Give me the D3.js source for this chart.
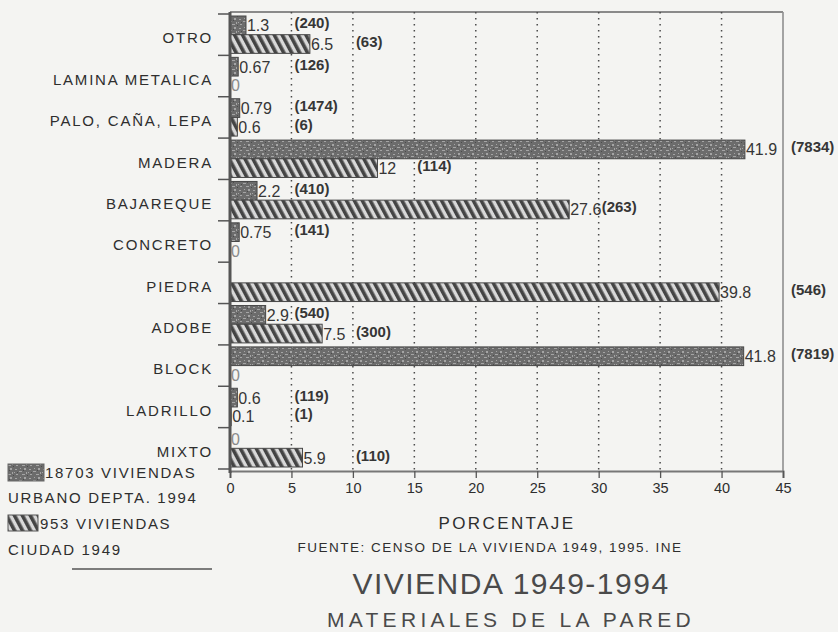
<!DOCTYPE html>
<html>
<head>
<meta charset="utf-8">
<script src="https://cdn.jsdelivr.net/npm/d3@7/dist/d3.min.js"></script>
<style>
  html, body { margin: 0; padding: 0; background: #f4f4f2; }
  svg { display: block; font-family: "Liberation Sans", Arial, Helvetica, sans-serif; }
</style>
</head>
<body>
<svg id="chart" width="838" height="632"></svg>
<script>
// Wall materials of dwellings, 1994 urban department vs. 1949 city
const categories = ["OTRO", "LAMINA METALICA", "PALO, CAÑA, LEPA", "MADERA", "BAJAREQUE",
  "CONCRETO", "PIEDRA", "ADOBE", "BLOCK", "LADRILLO", "MIXTO"];

// Percentages (null = not reported)
const values1994 = [1.3, 0.67, 0.79, 41.9, 2.2, 0.75, null, 2.9, 41.8, 0.6, 0];
const values1949 = [6.5, 0, 0.6, 12, 27.6, 0, 39.8, 7.5, 0, 0.1, 5.9];

// Number of dwellings behind each percentage
const counts1994 = [240, 126, 1474, 7834, 410, 141, null, 540, 7819, 119, null];
const counts1949 = [63, null, 6, 114, 263, null, 546, 300, null, 1, 110];

const xTicks = [0, 5, 10, 15, 20, 25, 30, 35, 40, 45];
const legendLines1994 = ["18703 VIVIENDAS", "URBANO DEPTA. 1994"];
const legendLines1949 = ["953 VIVIENDAS", "CIUDAD 1949"];

const series = [
  { key: "1994", values: values1994, counts: counts1994, fill: "url(#stipple)" },
  { key: "1949", values: values1949, counts: counts1949, fill: "url(#hatch)" }
];

const svg = d3.select("#chart");
const ink = "#2e2e2e";

// ---- fill patterns ----
const defs = svg.append("defs");
const stip = defs.append("pattern").attr("id", "stipple")
  .attr("patternUnits", "userSpaceOnUse").attr("width", 14).attr("height", 9);
stip.append("rect").attr("width", 14).attr("height", 9).attr("fill", "#6c6c6c");
[[1,1,2,1],[5,3,3,1],[10,0,2,2],[2,6,2,1],[8,6,3,1],[12,4,1,2],[6,0,1,1],[0,4,1,1]]
  .forEach(([a,b,w,h]) => stip.append("rect").attr("x", a).attr("y", b)
    .attr("width", w).attr("height", h).attr("fill", "#a5a5a5"));
[[3,4,1,1],[9,2,1,1],[13,7,1,1]]
  .forEach(([a,b,w,h]) => stip.append("rect").attr("x", a).attr("y", b)
    .attr("width", w).attr("height", h).attr("fill", "#4c4c4c"));

const hatch = defs.append("pattern").attr("id", "hatch")
  .attr("patternUnits", "userSpaceOnUse").attr("width", 7).attr("height", 20)
  .attr("patternTransform", "rotate(-28)");
hatch.append("rect").attr("width", 7).attr("height", 20).attr("fill", "#d8d8d8");
hatch.append("rect").attr("width", 3.6).attr("height", 20).attr("fill", "#444");

// ---- scales ----
const x = d3.scaleLinear().domain([0, 45]).range([230, 783]);
const y = d3.scaleBand().domain(categories).range([14, 469]);
const sub = d3.scaleBand().domain(series.map(s => s.key)).range([2, y.bandwidth() - 2]);
const plotTop = 12, plotBottom = 471;

// ---- frame & grid ----
svg.append("line").attr("x1", x(0)).attr("x2", x(45)).attr("y1", plotTop).attr("y2", plotTop)
  .attr("stroke", "#8a8a8a").attr("stroke-width", 2);
svg.append("line").attr("x1", x(45)).attr("x2", x(45)).attr("y1", plotTop).attr("y2", plotBottom)
  .attr("stroke", "#8f8f8f").attr("stroke-width", 1.6);
svg.append("g").selectAll("line").data(xTicks.filter(t => t > 0 && t < 45)).join("line")
  .attr("x1", d => x(d)).attr("x2", d => x(d))
  .attr("y1", plotTop).attr("y2", plotBottom)
  .attr("stroke", "#4a4a4a").attr("stroke-width", 1.5)
  .attr("stroke-dasharray", "1.5,4.5");

// ---- bars ----
const rows = [];
series.forEach(s => categories.forEach((c, i) => {
  if (s.values[i] !== null) rows.push({ cat: c, key: s.key, v: s.values[i], n: s.counts[i], fill: s.fill });
}));

svg.append("g").selectAll("rect").data(rows.filter(d => d.v > 0)).join("rect")
  .attr("x", x(0))
  .attr("y", d => y(d.cat) + sub(d.key))
  .attr("width", d => x(d.v) - x(0))
  .attr("height", sub.bandwidth())
  .attr("fill", d => d.fill)
  .attr("stroke", "#474747").attr("stroke-width", 1);

// ---- value and count labels ----
// counts sit just right of the first grid line clear of the value label
const labelG = svg.append("g");
rows.forEach(d => {
  const yc = y(d.cat) + sub(d.key) + sub.bandwidth() / 2;
  const vt = labelG.append("text")
    .attr("x", x(d.v) + 1).attr("y", yc + 6)
    .attr("font-size", 16).attr("fill", d.v === 0 ? "#8a8a8a" : "#363636")
    .text(String(d.v));
  if (d.n !== null) {
    const end = x(d.v) + 1 + vt.node().getComputedTextLength() - 4;
    const g = Math.ceil(x.invert(end) / 5) * 5;
    const cx = g >= 45 ? x(45) + 8 : x(g) + 3;
    labelG.append("text")
      .attr("x", cx).attr("y", yc + 3)
      .attr("font-size", 15).attr("font-weight", "bold").attr("fill", "#363636")
      .text(`(${d.n})`);
  }
});

// ---- axes ----
const yAxis = svg.append("g").attr("transform", `translate(${x(0)},0)`)
  .call(d3.axisLeft(y).tickSize(0).tickPadding(17));
yAxis.select(".domain").remove();
yAxis.selectAll("text").attr("dy", "0.32em").attr("transform", "translate(0,4)")
  .attr("font-size", 15).attr("letter-spacing", 1.8).attr("fill", ink)
  .attr("font-family", "'Liberation Sans', Arial, sans-serif");

svg.append("g").selectAll("line").data(categories.map(c => y(c)).concat([y.range()[1]])).join("line")
  .attr("x1", x(0) - 12).attr("x2", x(0)).attr("y1", d => d).attr("y2", d => d)
  .attr("stroke", "#555").attr("stroke-width", 1.5);

const xAxis = svg.append("g").attr("transform", `translate(0,${plotBottom})`)
  .call(d3.axisBottom(x).tickValues(xTicks).tickSize(7).tickPadding(5));
xAxis.select(".domain").attr("stroke", "#777").attr("stroke-width", 2);
xAxis.selectAll(".tick line").attr("stroke", "#555").attr("stroke-width", 1.3);
xAxis.selectAll("text").attr("font-size", 14.5).attr("fill", ink)
  .attr("font-family", "'Liberation Sans', Arial, sans-serif");

svg.append("line").attr("x1", x(0)).attr("x2", x(0)).attr("y1", plotTop).attr("y2", plotBottom + 2)
  .attr("stroke", "#555").attr("stroke-width", 3);

// ---- titles ----
svg.append("text").attr("x", 507).attr("y", 529).attr("text-anchor", "middle")
  .attr("font-size", 17).attr("letter-spacing", 2.4).attr("fill", ink).text("PORCENTAJE");
svg.append("text").attr("x", 490).attr("y", 552).attr("text-anchor", "middle")
  .attr("font-size", 13.5).attr("letter-spacing", 1.5).attr("fill", ink)
  .text("FUENTE:  CENSO DE LA VIVIENDA 1949, 1995.  INE");
svg.append("text").attr("x", 511).attr("y", 594).attr("text-anchor", "middle")
  .attr("font-size", 30).attr("letter-spacing", 1.5).attr("fill", "#4a4a4a")
  .text("VIVIENDA 1949-1994");
svg.append("text").attr("x", 511).attr("y", 627).attr("text-anchor", "middle")
  .attr("font-size", 21).attr("letter-spacing", 4.3).attr("fill", "#4a4a4a")
  .text("MATERIALES DE LA PARED");

// ---- legend ----
const lg = svg.append("g").attr("font-size", 15).attr("letter-spacing", 1.7).attr("fill", ink);
lg.append("rect").attr("x", 8).attr("y", 464).attr("width", 36).attr("height", 17)
  .attr("fill", "url(#stipple)").attr("stroke", "#666");
lg.append("text").attr("x", 45).attr("y", 478).text(legendLines1994[0]);
lg.append("text").attr("x", 8).attr("y", 503).text(legendLines1994[1]);
lg.append("rect").attr("x", 8).attr("y", 515).attr("width", 30).attr("height", 16)
  .attr("fill", "url(#hatch)").attr("stroke", "#555");
lg.append("text").attr("x", 40).attr("y", 529).text(legendLines1949[0]);
lg.append("text").attr("x", 8).attr("y", 555).text(legendLines1949[1]);
svg.append("line").attr("x1", 72).attr("x2", 212).attr("y1", 569).attr("y2", 569)
  .attr("stroke", "#555").attr("stroke-width", 1.5);
</script>
</body>
</html>
